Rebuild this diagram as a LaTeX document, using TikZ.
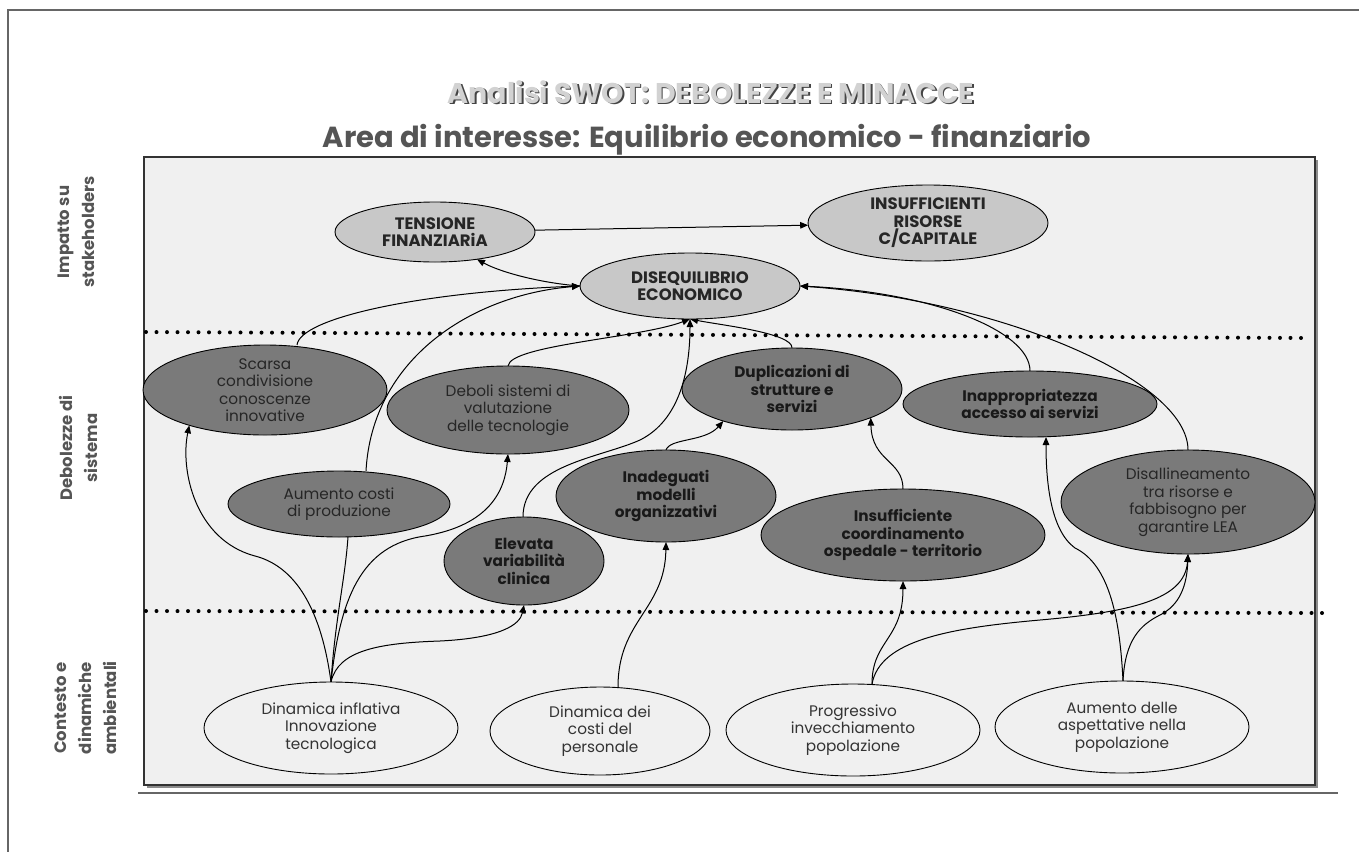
\documentclass[tikz,border=0pt]{standalone}
\usepackage{fontspec}
\setmainfont{Poppins}
\usetikzlibrary{shapes.geometric,arrows.meta,calc}
\pgfdeclarelayer{back}
\pgfdeclarelayer{conn}
\pgfsetlayers{back,conn,main}
\definecolor{boxbg}{HTML}{F0F0F0}
\definecolor{topfill}{HTML}{C8C8C8}
\definecolor{midfill}{HTML}{7A7A7A}
\definecolor{lblgray}{HTML}{555555}
\definecolor{frame}{HTML}{666666}
\definecolor{titlelight}{HTML}{D2D2D2}
\definecolor{titledark}{HTML}{444444}
\begin{document}
\begin{tikzpicture}[x=1pt,y=-1pt,
  every node/.style={inner sep=0pt, outer sep=0pt},
  esz/.style 2 args={minimum width=#1pt, minimum height=#2pt},
  ell/.style={ellipse, draw=black, line width=0.9pt, align=center, inner ysep=-6pt},
  topn/.style={ell, fill=topfill, font=\fontsize{16.5}{17.5}\selectfont\bfseries, text=black!85},
  midn/.style={ell, fill=midfill, font=\fontsize{15.3}{17.5}\selectfont, text=black!85},
  midb/.style={ell, fill=midfill, font=\fontsize{15.3}{17.5}\selectfont\bfseries, text=black!90},
  botn/.style={ell, fill=boxbg, font=\fontsize{15.3}{17.5}\selectfont, text=black!80},
  conn/.style={line width=1pt, -{Triangle[length=8pt,width=6.5pt]}},
  plainc/.style={line width=1pt},
  dotline/.style={line width=4pt, line cap=round, dash pattern=on 0pt off 10.5pt},
  side/.style={rotate=90, align=center, font=\fontsize{16.5}{25}\selectfont\bfseries, text=lblgray},
]
\useasboundingbox (0,0) rectangle (1359,852);

% page frame
\draw[frame, line width=1.5pt] (1359,10) -- (8,10) -- (8,852);
\draw[frame, line width=1.2pt] (138,793) -- (1338,793);

% titles
\node[font=\fontsize{28.5}{31}\selectfont\bfseries, text=titledark] (t1s) at (712.5,93.5) {Analisi SWOT: DEBOLEZZE E MINACCE};
\node[font=\fontsize{28.5}{31}\selectfont\bfseries, text=titlelight] (t1) at (711,92) {Analisi SWOT: DEBOLEZZE E MINACCE};
\node[font=\fontsize{29}{32}\selectfont\bfseries, text=lblgray] (t2) at (707,140) {Area di interesse: Equilibrio economico - finanziario};

% main box
\begin{pgfonlayer}{back}
  \fill[black!45] (147,160) rectangle (1318,788);
  \filldraw[fill=boxbg, draw=black!80, line width=1.2pt] (144,157) rectangle (1315,785);
  \draw[dotline] (146,332) -- (1306,338);
  \draw[dotline] (146,611) -- (1328,613);
\end{pgfonlayer}

% side labels
\node[side] (l1) at (76,232) {Impatto su\\stakeholders};
\node[side] (l2) at (78,448) {Debolezze di\\sistema};
\node[side] (l3) at (86,708) {Contesto e\\dinamiche\\ambientali};

% top row
\node[topn, esz={200}{60}] (tens) at (435,232) {TENSIONE\\FINANZIARiA};
\node[topn, esz={240}{76}] (insuf) at (928,223) {INSUFFICIENTI\\RISORSE\\C/CAPITALE};
\node[topn, esz={220}{66}] (diseq) at (690,286) {DISEQUILIBRIO\\ECONOMICO};

% middle row
\node[midn, esz={244}{90}] (scarsa) at (265,390) {Scarsa\\condivisione\\conoscenze\\innovative};
\node[midn, esz={242}{88}] (deboli) at (508,410) {Deboli sistemi di\\valutazione\\delle tecnologie};
\node[midn, esz={222}{66}] (aumc) at (339,504) {Aumento costi\\di produzione};
\node[midb, esz={220}{92}] (inad) at (666,496) {Inadeguati\\modelli\\organizzativi};
\node[midb, esz={160}{88}] (elev) at (524,561) {Elevata\\variabilità\\clinica};
\node[midb, esz={220}{82}] (dupl) at (792,389) {Duplicazioni di\\strutture e\\servizi};
\node[midb, esz={254}{66}] (inapp) at (1030,404) {Inappropriatezza\\accesso ai servizi};
\node[midn, esz={254}{104}] (disall) at (1188,502) {Disallineamento\\tra risorse e\\fabbisogno per\\garantire LEA};
\node[midb, esz={284}{92}] (insco) at (903,535) {Insufficiente\\coordinamento\\ospedale - territorio};

% bottom row
\node[botn, esz={254}{92}] (dinf) at (331,728) {Dinamica inflativa\\Innovazione\\tecnologica};
\node[botn, esz={220}{88}] (dcost) at (600,731) {Dinamica dei\\costi del\\personale};
\node[botn, esz={254}{92}] (prog) at (853,730) {Progressivo\\invecchiamento\\popolazione};
\node[botn, esz={254}{92}] (aspet) at (1122,727) {Aumento delle\\aspettative nella\\popolazione};

\begin{pgfonlayer}{conn}
  % top
  \draw[conn] (tens) -- (insuf);
  \draw[conn] (diseq.west) .. controls (540,283) and (500,272) .. (tens.-33);
  \draw[conn] ([xshift=32pt]scarsa.north) .. controls (300,318) and (420,292) .. (diseq.west);
  \draw[conn] ([xshift=27pt]aumc.north) .. controls (372,360) and (470,295) .. (diseq.west);
  \draw[conn] (deboli.north) .. controls (510,345) and (640,338) .. (diseq.south);
  \draw[conn] ([xshift=-1pt]elev.north) .. controls (523,465) and (600,458) .. (640,440)
      .. controls (680,420) and (690,370) .. (diseq.south);
  \draw[conn] (dupl.north) .. controls (793,333) and (720,325) .. (diseq.south);
  \draw[conn] (inapp.north) .. controls (1030,330) and (930,292) .. (diseq.east);
  \draw[conn] (disall.north) .. controls (1188,380) and (1000,300) .. (diseq.east);
  % middle
  \draw[conn] (inad.north) .. controls (670,438) and (705,442) .. (dupl.205);
  \draw[conn] (insco.north) .. controls (903,460) and (872,462) .. (dupl.-20);
  % bottom sources
  \draw[conn] (dinf.north) .. controls (320,600) and (290,565) .. (255,556)
      .. controls (195,540) and (180,470) .. (scarsa.205);
  \draw[plainc] (dinf.north) .. controls (335,620) and (345,580) .. ([xshift=9pt]aumc.south);
  \draw[conn] (dinf.north) .. controls (340,600) and (360,545) .. (425,536)
      .. controls (490,525) and (505,490) .. (deboli.south);
  \draw[conn] (dinf.north) .. controls (338,650) and (380,643) .. (440,641)
      .. controls (500,638) and (520,625) .. (elev.south);
  \draw[conn] ([xshift=18pt]dcost.north) .. controls (618,620) and (665,610) .. (inad.south);
  \draw[conn] ([xshift=19pt]prog.north) .. controls (872,640) and (903,640) .. (insco.south);
  \draw[conn] ([xshift=19pt]prog.north) .. controls (880,640) and (950,628) .. (1040,620)
      .. controls (1130,612) and (1185,600) .. (disall.south);
  \draw[conn] ([xshift=1pt]aspet.north) .. controls (1120,620) and (1110,565) .. (1075,548)
      .. controls (1050,530) and (1046,480) .. ([xshift=16pt]inapp.south);
  \draw[conn] ([xshift=1pt]aspet.north) .. controls (1125,640) and (1140,625) .. (1160,615)
      .. controls (1180,605) and (1187,585) .. (disall.south);
\end{pgfonlayer}
\end{tikzpicture}
\end{document}
